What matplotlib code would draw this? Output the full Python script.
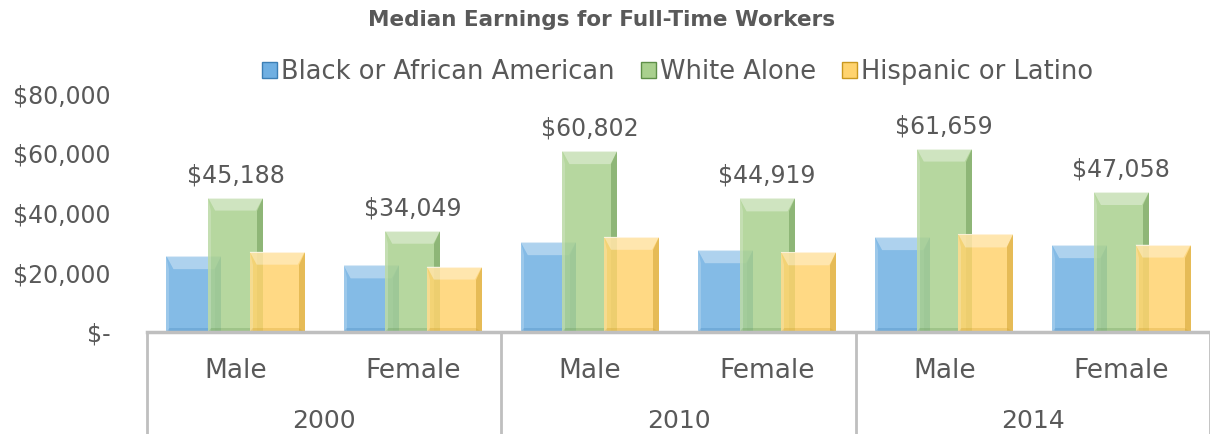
import numpy as np
import matplotlib
matplotlib.use("Agg")
import matplotlib.pyplot as plt
from matplotlib.patches import Polygon
from matplotlib.transforms import blended_transform_factory

# data
years = ["2000", "2010", "2014"]
genders = ["Male", "Female"]
series = ["Black or African American", "White Alone", "Hispanic or Latino"]
black = [25500, 22400, 30200, 27500, 31900, 29200]
white = [45188, 34049, 60802, 44919, 61659, 47058]
hispanic = [27000, 22000, 32000, 26800, 32800, 29400]

colors = ["#6FAFE2", "#A9D08E", "#FFD36E"]
edge_dark = ["#3C7FB5", "#5E8F48", "#C9981F"]
gray = "#595959"

plt.rcParams["font.family"] = ["DejaVu Sans"]

fig = plt.figure(figsize=(12.1, 4.34), dpi=100)
ax = fig.add_axes([147 / 1210, (434 - 332) / 434, 1063 / 1210, 238 / 434])

n_cat = len(years) * len(genders)
x = np.arange(n_cat)
width = 0.31
step = 0.235
ax.set_xlim(-0.5, n_cat - 0.5)
ax.set_ylim(0, 80000)

# pixel sizes -> data units for the bevel look
px_x = 1.0 / (1063 / n_cat)
px_y = 80000 / 238.0


def bevel_bar(xc, h, i):
    x0, x1 = xc - width / 2, xc + width / 2
    ax.bar(xc, h, width, color=colors[i], alpha=0.85, zorder=2 + i,
           edgecolor="none")
    bx = 7 * px_x
    by = 13 * px_y
    sx = 6 * px_x
    # top bevel (light)
    ax.add_patch(Polygon([(x0, h), (x1, h), (x1 - bx, h - by), (x0 + bx, h - by)],
                         closed=True, facecolor="white", alpha=0.35,
                         edgecolor="none", zorder=2 + i))
    # right shade (dark)
    ax.add_patch(Polygon([(x1, h), (x1, 0), (x1 - sx, 0), (x1 - sx, h - by)],
                         closed=True, facecolor=edge_dark[i], alpha=0.45,
                         edgecolor="none", zorder=2 + i))
    # left light strip
    ax.add_patch(Polygon([(x0, h), (x0, 0), (x0 + 3 * px_x, 0), (x0 + 3 * px_x, h - by)],
                         closed=True, facecolor="white", alpha=0.2,
                         edgecolor="none", zorder=2 + i))
    # bottom bevel
    ax.add_patch(Polygon([(x0, 0), (x1, 0), (x1 - sx, 4 * px_y), (x0 + 3 * px_x, 4 * px_y)],
                         closed=True, facecolor=edge_dark[i], alpha=0.25,
                         edgecolor="none", zorder=2 + i))
    ax.plot([x0, x1], [h, h], color="white", lw=0.8, alpha=0.6, zorder=2 + i)


for i, vals in enumerate([black, white, hispanic]):
    for j, v in enumerate(vals):
        bevel_bar(x[j] + (i - 1) * step, v, i)

for j, v in enumerate(white):
    ax.text(x[j], v + 3500, "${:,}".format(v), ha="center", va="bottom",
            fontsize=17, color=gray)

# y axis
ax.set_yticks([0, 20000, 40000, 60000, 80000])
ax.set_yticklabels(["$-", "$20,000", "$40,000", "$60,000", "$80,000"])
ax.tick_params(axis="y", length=0, labelsize=17, labelcolor=gray, pad=26)
ax.set_xticks([])
for s in ["top", "right", "left"]:
    ax.spines[s].set_visible(False)
ax.spines["bottom"].set_color("#BFBFBF")
ax.spines["bottom"].set_linewidth(2.5)
ax.spines["bottom"].set_zorder(10)

# two-level category axis
tr = blended_transform_factory(ax.transData, ax.transAxes)
for j in range(n_cat):
    ax.text(x[j], -0.165, genders[j % 2], transform=tr, ha="center", va="center",
            fontsize=19, color=gray)
for k, yr in enumerate(years):
    ax.text(2 * k + 0.5, -0.375, yr, transform=tr, ha="center", va="center",
            fontsize=18, color=gray)
for b in [-0.5, 1.5, 3.5, 5.5]:
    ax.plot([b, b], [0, -0.45], transform=tr, color="#BFBFBF", lw=2,
            clip_on=False)

fig.text(0.497, 1 - 20 / 434, "Median Earnings for Full-Time Workers",
         ha="center", va="center", fontsize=15.5, fontweight="bold", color=gray)

handles = [plt.Rectangle((0, 0), 1, 1, facecolor=c, edgecolor=e, lw=1)
           for c, e in zip(colors, edge_dark)]
leg = fig.legend(handles, series, loc="center", bbox_to_anchor=(0.56, 1 - 72 / 434),
                 ncol=3, frameon=False, fontsize=18.5, handlelength=0.6,
                 handleheight=0.6, handletextpad=0.15, columnspacing=1.0)
for t in leg.get_texts():
    t.set_color(gray)

fig.savefig("out.png", dpi=100)
